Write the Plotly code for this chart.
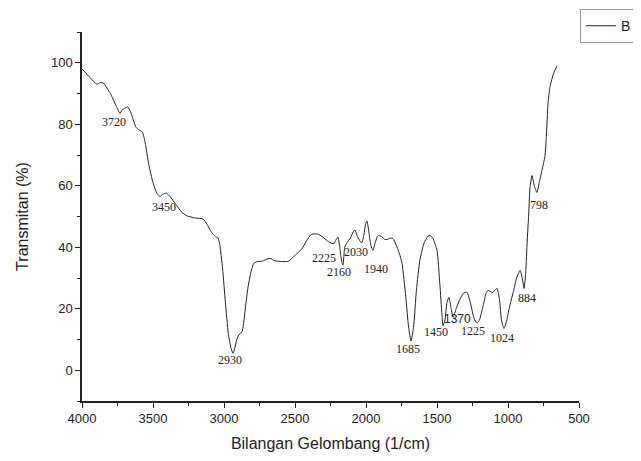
import plotly.graph_objects as go

wavenumber = [4000, 3960, 3920, 3894, 3870, 3850, 3800, 3760, 3732, 3720, 3700, 3676, 3650, 3620, 3600, 3575,
              3555, 3530, 3500, 3472, 3450, 3430, 3405, 3380, 3340, 3300, 3261, 3200, 3148, 3120, 3090, 3060,
              3042, 3030, 3010, 2990, 2970, 2950, 2936, 2925, 2910, 2895, 2873, 2860, 2845, 2831, 2810, 2790,
              2768, 2730, 2690, 2676, 2640, 2606, 2549, 2520, 2490, 2451, 2420, 2390, 2373, 2340, 2310, 2270,
              2240, 2225, 2210, 2197, 2185, 2170, 2162, 2150, 2134, 2110, 2090, 2078, 2060, 2040, 2028, 2015,
              2003, 1993, 1983, 1965, 1951, 1935, 1916, 1890, 1870, 1852, 1830, 1810, 1790, 1765, 1746, 1720,
              1700, 1683, 1665, 1645, 1620, 1590, 1565, 1549, 1530, 1500, 1480, 1465, 1458, 1445, 1430, 1416,
              1400, 1387, 1365, 1340, 1315, 1289, 1265, 1240, 1218, 1200, 1175, 1155, 1141, 1120, 1106, 1090,
              1077, 1060, 1045, 1028, 1010, 990, 960, 940, 915, 900, 887, 875, 865, 855, 845, 831,
              815, 796, 780, 761, 740, 730, 718, 705, 683, 655]
transmitan = [98.0, 96.0, 94.0, 93.0, 93.6, 93.4, 90.0, 86.0, 83.5, 84.5, 85.2, 85.6, 83.0, 79.0, 78.2, 77.5,
              74.0, 67.0, 61.0, 57.5, 56.5, 57.3, 57.6, 56.5, 54.0, 51.5, 50.2, 49.5, 49.2, 47.5, 45.0, 43.5,
              43.0, 41.0, 33.0, 22.0, 12.0, 7.0, 5.5, 7.0, 10.0, 11.5, 12.5, 16.0, 22.0, 27.0, 32.0, 34.8,
              35.3, 35.5, 36.3, 36.4, 35.6, 35.4, 35.4, 36.5, 37.8, 39.5, 42.0, 44.0, 44.3, 44.3, 43.5, 42.0,
              41.3, 41.2, 42.5, 43.3, 40.0, 35.0, 34.2, 40.0, 41.5, 43.0, 45.0, 45.6, 43.5, 41.8, 41.5, 44.0,
              47.5, 48.5, 46.0, 40.5, 39.0, 41.5, 43.8, 43.5, 42.6, 42.5, 43.0, 42.8, 41.0, 38.0, 34.7, 24.0,
              14.0, 9.5, 14.0, 26.0, 36.0, 41.5, 43.5, 43.8, 43.0, 39.0, 28.0, 18.0, 14.5, 16.0, 22.0, 23.7,
              20.0, 17.2, 20.0, 23.0, 25.0, 25.4, 22.0, 17.0, 15.3, 16.5, 21.0, 25.0, 26.0, 25.5, 25.3, 26.2,
              26.6, 23.0, 16.0, 13.6, 16.0, 20.5, 26.0, 30.0, 32.5, 30.0, 26.6, 32.0, 42.0, 50.0, 59.4, 63.3,
              60.0, 57.8, 61.0, 65.0, 69.5, 76.0, 87.0, 92.0, 96.0, 99.0]

peak_labels = ["3720", "3450", "2930", "2225", "2160", "2030", "1940", "1685",
               "1450", "1370", "1225", "1024", "884", "798"]
label_x = [3775, 3423, 2958, 2296, 2190, 2071, 1930, 1704, 1505, 1356, 1247, 1042, 866, 782]
label_y = [80.8, 53.2, 3.2, 36.4, 31.8, 38.3, 32.8, 6.8, 12.5, 16.6, 12.7, 10.4, 23.4, 53.9]

fig = go.Figure()
fig.add_trace(go.Scatter(
    x=wavenumber, y=transmitan, mode="lines", name="B",
    line=dict(color="#222222", width=1, shape="spline", smoothing=0.5),
))

for txt, lx, ly in zip(peak_labels, label_x, label_y):
    sans = txt == "1370"
    fig.add_annotation(
        x=lx, y=ly, text=txt, showarrow=False, xref="x", yref="y",
        font=dict(family="Liberation Sans" if sans else "Liberation Serif",
                  size=12, color="#222222"),
    )

fig.update_layout(
    width=633, height=453,
    margin=dict(l=74, r=62, t=24, b=60, autoexpand=False),
    paper_bgcolor="white", plot_bgcolor="white",
    font=dict(family="Liberation Sans", color="#222222"),
    showlegend=True,
    legend=dict(x=1.002, y=1.062, xanchor="left", yanchor="top",
                bordercolor="#999999", borderwidth=1, bgcolor="white",
                font=dict(size=14, family="Liberation Sans"),
                itemwidth=30, tracegroupgap=0),
    xaxis=dict(
        range=[4000, 500], tickvals=[4000, 3500, 3000, 2500, 2000, 1500, 1000, 500],
        ticks="outside", ticklen=5, tickwidth=1.2, tickcolor="#222222",
        minor=dict(dtick=250, ticks="outside", ticklen=3, tickcolor="#222222", tickwidth=1.2),
        showline=True, linecolor="#222222", linewidth=1.5, showgrid=False, zeroline=False,
        tickfont=dict(size=13), automargin=False,
        title=dict(text="Bilangan Gelombang (1/cm)", font=dict(size=16), standoff=12),
    ),
    yaxis=dict(
        range=[-10, 110], tickvals=[0, 20, 40, 60, 80, 100],
        ticks="outside", ticklen=5, tickwidth=1.2, tickcolor="#222222",
        minor=dict(dtick=10, ticks="outside", ticklen=3, tickcolor="#222222", tickwidth=1.2),
        showline=True, linecolor="#222222", linewidth=1.5, showgrid=False, zeroline=False,
        tickfont=dict(size=13), automargin=False,
        title=dict(text="Transmitan (%)", font=dict(size=16), standoff=18),
    ),
)

fig.write_html("out.html")
